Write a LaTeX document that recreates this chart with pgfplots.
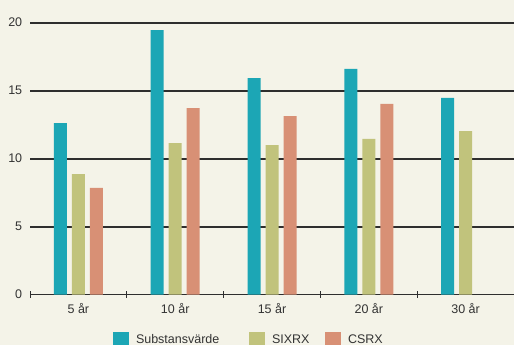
\documentclass[border=0pt]{standalone}
\usepackage{pgfplots}
\pgfplotsset{compat=1.18}
\usepackage{fontspec}
\setmainfont{Liberation Sans}
\definecolor{bgc}{HTML}{F4F3E8}
\definecolor{tealc}{HTML}{1CA6B5}
\definecolor{olivec}{HTML}{C1C37C}
\definecolor{salmonc}{HTML}{D89075}
\definecolor{gridc}{HTML}{2E2E2E}
\definecolor{shadc}{HTML}{D9D8CD}
\definecolor{textc}{HTML}{333333}
\begin{document}
\begin{tikzpicture}
\fill[bgc] (0,0) rectangle (514bp,345bp);
\path[use as bounding box] (0,0) rectangle (514bp,345bp);
\begin{axis}[
  at={(30bp,50.4bp)}, anchor=south west,
  scale only axis, width=484bp, height=272.3bp,
  xmin=-0.5, xmax=4.5, ymin=0, ymax=20,
  ybar=5bp, bar width=13bp,
  xtick={0,1,2,3,4}, xticklabels={5 år,10 år,15 år,20 år,30 år},
  minor xtick={-0.5,0.5,1.5,2.5,3.5,4.5},
  ytick={0,5,10,15,20},
  extra y ticks={4.93,9.93,14.93,19.93},
  extra y tick labels={},
  extra y tick style={grid style={line width=1bp, color=shadc}},
  major tick length=0pt, minor tick length=6.3bp, tick align=center,
  minor tick style={line width=1bp, color=gridc},
  ymajorgrids, major grid style={line width=1bp, color=gridc},
  axis x line*=bottom, axis y line*=left,
  y axis line style={draw=none},
  x axis line style={line width=1.6bp, color=gridc},
  /pgf/number format/assume math mode=true,
  tick label style={font=\fontsize{12.5bp}{15bp}\selectfont, text=textc},
  yticklabel style={xshift=-4.3bp},
  xticklabel style={yshift=-5bp},
  legend columns=3,
  legend style={draw=none, fill=none, at={(0.1715,-0.1667)}, anchor=west,
    inner sep=0pt, outer sep=0pt,
    nodes={inner sep=0pt, outer sep=0pt, text=textc, font=\fontsize{12.5bp}{15bp}\selectfont},
    /tikz/column sep=0pt},
]
\addplot[fill=tealc, draw=none, legend image code/.code={\fill[tealc] (0bp,-8bp) rectangle (16bp,8bp);}]
  coordinates {(0,12.6) (1,19.43) (2,15.9) (3,16.57) (4,14.44)};
\addlegendentry{\hspace{7bp}\makebox[113bp][l]{Substansvärde}}
\addplot[fill=olivec, draw=none, legend image code/.code={\fill[olivec] (0bp,-8bp) rectangle (16bp,8bp);}]
  coordinates {(0,8.85) (1,11.13) (2,10.98) (3,11.43) (4,12.01)};
\addlegendentry{\hspace{7bp}\makebox[53bp][l]{SIXRX}}
\addplot[fill=salmonc, draw=none, legend image code/.code={\fill[salmonc] (0bp,-8bp) rectangle (16bp,8bp);}]
  coordinates {(0,7.83) (1,13.7) (2,13.11) (3,14.0)};
\addlegendentry{\hspace{7bp}CSRX}
\end{axis}
\end{tikzpicture}
\end{document}
